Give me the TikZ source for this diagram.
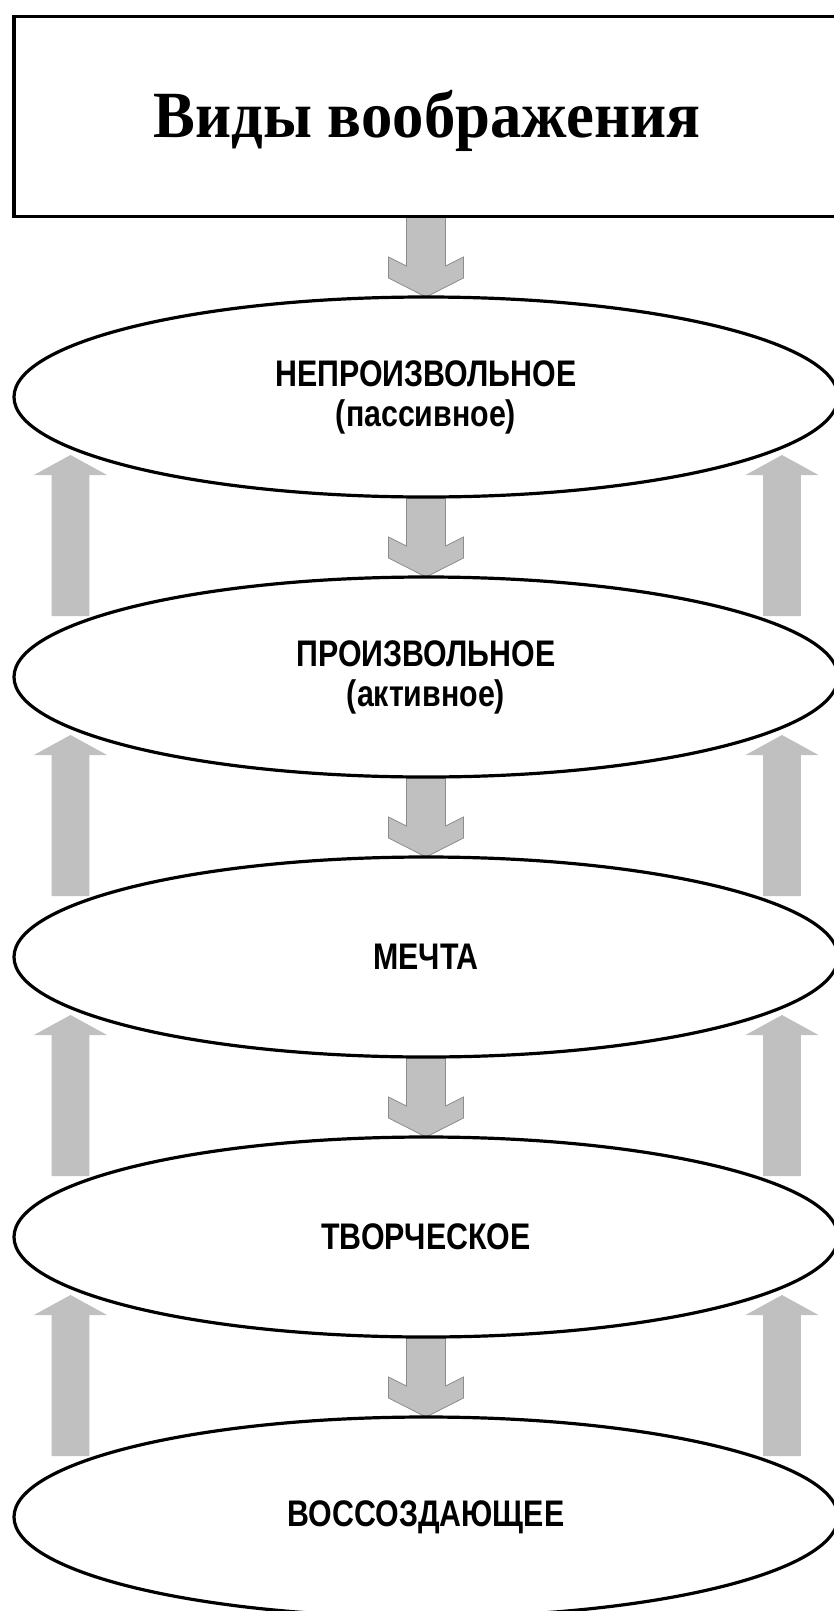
\documentclass[tikz,border=0pt]{standalone}
\usepackage{fontspec}
\setmainfont{Liberation Serif}
\newfontfamily\titleserif[FakeStretch=0.95]{Liberation Serif}
\newfontfamily\narrowsans[FakeStretch=0.82]{Liberation Sans}
\usetikzlibrary{shapes.geometric,calc,backgrounds}
\definecolor{arrfill}{RGB}{192,192,192}
\definecolor{arredge}{RGB}{140,140,140}
\tikzset{
  kindbox/.style={ellipse, draw=black, line width=3.2pt, fill=white,
    minimum width=824pt, minimum height=200pt, inner sep=0pt, outer sep=0pt,
    align=center, font=\narrowsans\bfseries\fontsize{37}{40}\selectfont},
  titlebox/.style={rectangle, draw=black, line width=3.5pt, fill=white,
    minimum width=824pt, minimum height=200pt, inner sep=0pt, outer sep=0pt},
  downarr/.style={fill=arrfill, draw=arredge, line width=0.8pt, line join=miter},
  uparr/.style={fill=arrfill, draw=none}
}
\newcommand\blockdown[2]{%
  \draw[downarr] ($(#1)+(-19.5,0)$) -- ($(#2.north)+(-19.5,-31)$)
    -- ($(#2.north)+(-37.5,-40)$) -- ($(#2.north)+(-37.5,-19)$)
    -- (#2.north) -- ($(#2.north)+(37.5,-19)$) -- ($(#2.north)+(37.5,-40)$)
    -- ($(#2.north)+(19.5,-31)$) -- ($(#1)+(19.5,0)$) -- cycle;}
\newcommand\blockup[3]{%
  \path[uparr] ($(#1.center)+(#3-18.8,-61)$) -- ($(#2.center)+(#3-18.8,78)$)
    -- ($(#2.center)+(#3-36.5,78)$) -- ($(#2.center)+(#3,58)$)
    -- ($(#2.center)+(#3+36.5,78)$) -- ($(#2.center)+(#3+18.8,78)$)
    -- ($(#1.center)+(#3+18.8,-61)$) -- cycle;}
\begin{document}
\begin{tikzpicture}[x=1pt,y=-1pt]
\useasboundingbox (0,0) rectangle (834,1611);
\clip (0,0) rectangle (834,1611);
\node[titlebox] (title) at (426,116.7) {};
\node[anchor=base, font=\titleserif\bfseries\fontsize{66}{70}\selectfont] (titletext) at (427,137) {Виды воображения};
\node[kindbox] (e1) at (426,397) {НЕПРОИЗВОЛЬНОЕ\\(пассивное)};
\node[kindbox] (e2) at (426,677) {ПРОИЗВОЛЬНОЕ\\(активное)};
\node[kindbox] (e3) at (426,957) {МЕЧТА};
\node[kindbox] (e4) at (426,1237) {ТВОРЧЕСКОЕ};
\node[kindbox] (e5) at (426,1517) {ВОССОЗДАЮЩЕЕ};
\coordinate (t0) at (title.south -| e1.north);
\begin{scope}[on background layer]
\fill[white] (0,0) rectangle (834,1611);
\blockdown{t0}{e1}
\blockdown{e1.south}{e2}
\blockdown{e2.south}{e3}
\blockdown{e3.south}{e4}
\blockdown{e4.south}{e5}
\end{scope}
\blockup{e2}{e1}{-355.5}
\blockup{e2}{e1}{356}
\blockup{e3}{e2}{-355.5}
\blockup{e3}{e2}{356}
\blockup{e4}{e3}{-355.5}
\blockup{e4}{e3}{356}
\blockup{e5}{e4}{-355.5}
\blockup{e5}{e4}{356}
\end{tikzpicture}
\end{document}
